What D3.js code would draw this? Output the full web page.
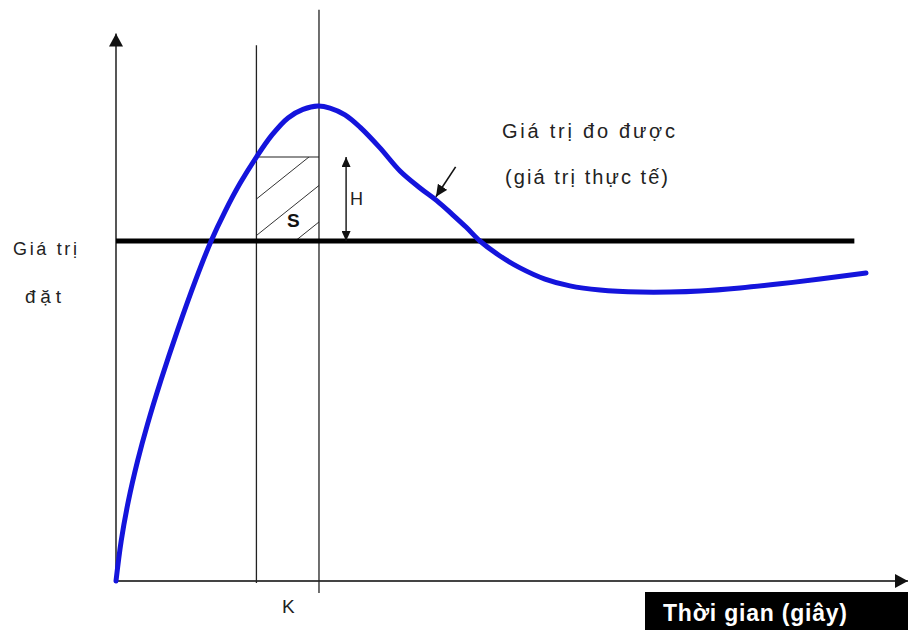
<!DOCTYPE html>
<html>
<head>
<meta charset="utf-8">
<script src="https://cdn.jsdelivr.net/npm/d3@7"></script>
<style>
  html, body { margin: 0; padding: 0; background: #fff; }
  svg { display: block; font-family: "Liberation Sans", Arial, sans-serif; }
</style>
</head>
<body>
<svg id="chart" width="908" height="630"></svg>
<script>
// Response of the measured value over time (time units, value relative to the setpoint)
const time = [0, 0.66, 1.57, 2.74, 4.01, 5.71, 7.82, 10.1, 12.07, 13.86, 15.78, 17.82,
  19.8, 21.83, 23.73, 25.63, 27.16, 29.06, 30.96, 33.5, 36.04, 38.58, 40.74, 42.64,
  44.42, 46.19, 48.73, 51.27, 54.44, 57.61, 61.42, 66.5, 70.3, 74.11, 79.19, 84.26,
  89.34, 95.18];
const measured = [0, 0.118, 0.235, 0.353, 0.462, 0.591, 0.738, 0.885, 1.0, 1.088, 1.171, 1.247,
  1.312, 1.362, 1.387, 1.397, 1.391, 1.371, 1.335, 1.274, 1.206, 1.156, 1.118, 1.079,
  1.041, 1.0, 0.956, 0.921, 0.888, 0.868, 0.856, 0.85, 0.85, 0.853, 0.862, 0.874,
  0.888, 0.906];

const setpoint = 1.0;
const setpointEnd = 93.7;      // where the setpoint line stops
const tStart = 17.82;          // left edge of the area S
const tK = 25.76;              // time K (peak instant)
const arrowFrom = [43.1, 1.218]; // pointer to the measured curve
const arrowTo = [40.6, 1.13];

const labels = {
  setpointA: "Giá trị",
  setpointB: "đặt",
  measuredA: "Giá trị đo được",
  measuredB: "(giá trị thực tế)",
  k: "K",
  h: "H",
  s: "S",
  xTitle: "Thời gian (giây)"
};

const svg = d3.select("#chart");
const x = d3.scaleLinear().domain([0, 100]).range([116, 904]);
const y = d3.scaleLinear().domain([0, 1.6]).range([581, 37]);

const defs = svg.append("defs");
function marker(id, w, h, color) {
  defs.append("marker")
    .attr("id", id)
    .attr("viewBox", `0 0 ${h} ${w}`)
    .attr("refX", h).attr("refY", w / 2)
    .attr("markerWidth", h).attr("markerHeight", w)
    .attr("markerUnits", "userSpaceOnUse")
    .attr("orient", "auto-start-reverse")
    .append("path")
    .attr("d", `M0,0 L${h},${w / 2} L0,${w} Z`)
    .attr("fill", color);
}
marker("axisHead", 14, 13, "#111");
marker("smallHead", 9, 10, "#111");
marker("ptrHead", 11, 12, "#111");

// Axes
svg.append("line")
  .attr("x1", x(0)).attr("y1", y(0))
  .attr("x2", x(0)).attr("y2", y(1.61))
  .attr("stroke", "#444").attr("stroke-width", 1.8)
  .attr("marker-end", "url(#axisHead)");
svg.append("line")
  .attr("x1", x(0)).attr("y1", y(0))
  .attr("x2", x(100.5)).attr("y2", y(0))
  .attr("stroke", "#444").attr("stroke-width", 1.8)
  .attr("marker-end", "url(#axisHead)");

// Area S: hatched rectangle between tStart and K, from setpoint up to the curve value at tStart
const sTop = measured[time.indexOf(tStart)];
const rx0 = x(tStart), rx1 = x(tK), ry0 = y(sTop), ry1 = y(setpoint);
defs.append("clipPath").attr("id", "sClip")
  .append("rect").attr("x", rx0).attr("y", ry0)
  .attr("width", rx1 - rx0).attr("height", ry1 - ry0);
const hatch = svg.append("g").attr("clip-path", "url(#sClip)");
const slope = 0.8, gap = 36.5;
for (let k = 0; k < 4; k++) {
  const b = ry0 + 42 + k * gap;
  hatch.append("line")
    .attr("x1", rx0).attr("y1", b)
    .attr("x2", rx1).attr("y2", b - slope * (rx1 - rx0))
    .attr("stroke", "#333").attr("stroke-width", 1);
}
svg.append("line")
  .attr("x1", rx0).attr("x2", rx1).attr("y1", ry0).attr("y2", ry0)
  .attr("stroke", "#222").attr("stroke-width", 1.2);

// Vertical guides at tStart and K
svg.append("line")
  .attr("x1", x(tStart)).attr("x2", x(tStart))
  .attr("y1", y(1.576)).attr("y2", y(-0.006))
  .attr("stroke", "#222").attr("stroke-width", 1.3);
svg.append("line")
  .attr("x1", x(tK)).attr("x2", x(tK))
  .attr("y1", y(1.68)).attr("y2", y(-0.035))
  .attr("stroke", "#222").attr("stroke-width", 1.3);

// Setpoint line
svg.append("line")
  .attr("x1", x(0)).attr("x2", x(setpointEnd))
  .attr("y1", y(setpoint)).attr("y2", y(setpoint))
  .attr("stroke", "#000").attr("stroke-width", 5);

// Measured curve
const line = d3.line()
  .x((d, i) => x(time[i]))
  .y(d => y(d))
  .curve(d3.curveCatmullRom.alpha(0.5));
svg.append("path")
  .datum(measured)
  .attr("d", line)
  .attr("fill", "none")
  .attr("stroke", "#1414dc")
  .attr("stroke-width", 5)
  .attr("stroke-linecap", "round")
  .attr("stroke-linejoin", "round");

// H: overshoot height
const hx = x(29.2);
svg.append("line")
  .attr("x1", hx).attr("x2", hx)
  .attr("y1", y(sTop)).attr("y2", y(setpoint))
  .attr("stroke", "#111").attr("stroke-width", 1.4)
  .attr("marker-start", "url(#smallHead)")
  .attr("marker-end", "url(#smallHead)");

// Pointer to the measured curve
svg.append("line")
  .attr("x1", x(arrowFrom[0])).attr("y1", y(arrowFrom[1]))
  .attr("x2", x(arrowTo[0])).attr("y2", y(arrowTo[1]))
  .attr("stroke", "#111").attr("stroke-width", 1.6)
  .attr("marker-end", "url(#ptrHead)");

// Texts
function label(txt, tx, ty, size, len, opts = {}) {
  const t = svg.append("text")
    .attr("x", tx).attr("y", ty)
    .attr("font-size", size)
    .attr("fill", opts.fill || "#222")
    .attr("font-weight", opts.bold ? "bold" : "normal")
    .text(txt);
  if (len) t.attr("textLength", len).attr("lengthAdjust", "spacing");
  return t;
}
label(labels.setpointA, 13, 255, 18, 64);
label(labels.setpointB, 25, 303, 19, 36);
label(labels.measuredA, 502, 138, 20, 173);
label(labels.measuredB, 505, 184, 20, 163);
label(labels.k, 282, 613, 19);
label(labels.h, 350, 205, 18);
label(labels.s, 287, 227, 19, null, { bold: true, fill: "#111" });

// Axis title box
svg.append("rect")
  .attr("x", 645).attr("y", 592)
  .attr("width", 263).attr("height", 38)
  .attr("fill", "#000");
label(labels.xTitle, 663, 621, 23, 184, { bold: true, fill: "#fff" });
</script>
</body>
</html>
